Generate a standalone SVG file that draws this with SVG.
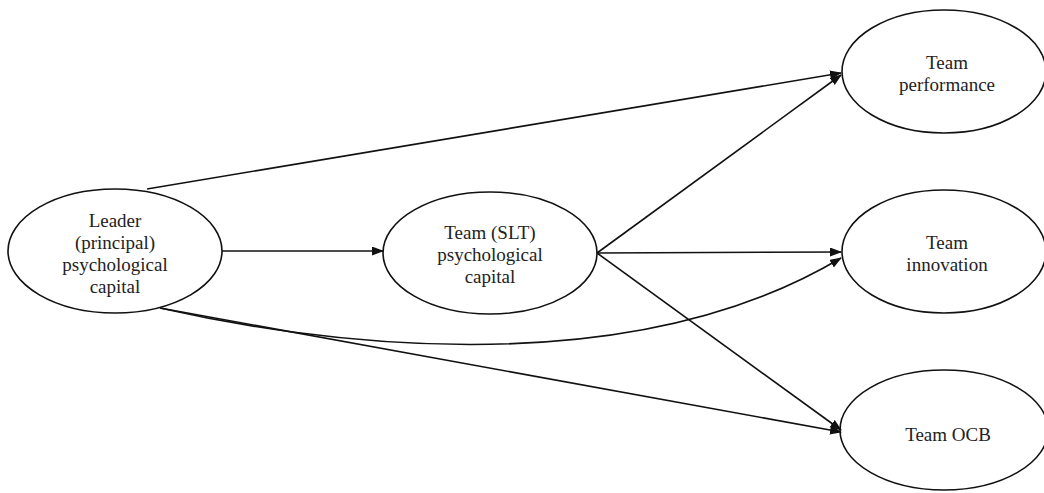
<svg xmlns="http://www.w3.org/2000/svg" width="1044" height="493" viewBox="0 0 1044 493">
<style>
.node ellipse{fill:#fff;stroke:#111;stroke-width:1.6}
.node text{font-family:"Liberation Serif","Times New Roman",serif;font-size:19px;fill:#222;text-anchor:middle}
.edges path{fill:none;stroke:#111;stroke-width:1.6;marker-end:url(#arr)}
</style>
<defs>
<marker id="arr" markerUnits="userSpaceOnUse" markerWidth="12" markerHeight="10" refX="11" refY="4.5" orient="auto">
<path d="M0,0 L12,4.5 L0,9 z" fill="#111"/>
</marker>
</defs>
<rect width="1044" height="493" fill="#fff"/>
<g id="leader" class="node">
<ellipse cx="115" cy="251" rx="107" ry="62"/>
<text x="115" y="227">Leader</text>
<text x="115" y="249">(principal)</text>
<text x="115" y="271">psychological</text>
<text x="115" y="293">capital</text>
</g>
<g id="team-slt" class="node">
<ellipse cx="490" cy="253" rx="107" ry="61"/>
<text x="490" y="239">Team (SLT)</text>
<text x="490" y="261">psychological</text>
<text x="490" y="283">capital</text>
</g>
<g id="team-performance" class="node">
<ellipse cx="944" cy="71.5" rx="102" ry="61.5"/>
<text x="947" y="69">Team</text>
<text x="947" y="91">performance</text>
</g>
<g id="team-innovation" class="node">
<ellipse cx="944" cy="251.5" rx="102" ry="61.5"/>
<text x="947" y="249">Team</text>
<text x="947" y="271">innovation</text>
</g>
<g id="team-ocb" class="node">
<ellipse cx="944" cy="430" rx="104" ry="60"/>
<text x="948" y="441">Team OCB</text>
</g>
<g id="connectors" class="edges">
<path d="M147,189 L841,73"/>
<path d="M222,251 L383,251"/>
<path d="M597,253 L841,75"/>
<path d="M597,253 L841,252"/>
<path d="M160,308 C300,340 620,390 841,258"/>
<path d="M160,308 L841,432"/>
<path d="M597,253 L841,430"/>
</g>
</svg>
